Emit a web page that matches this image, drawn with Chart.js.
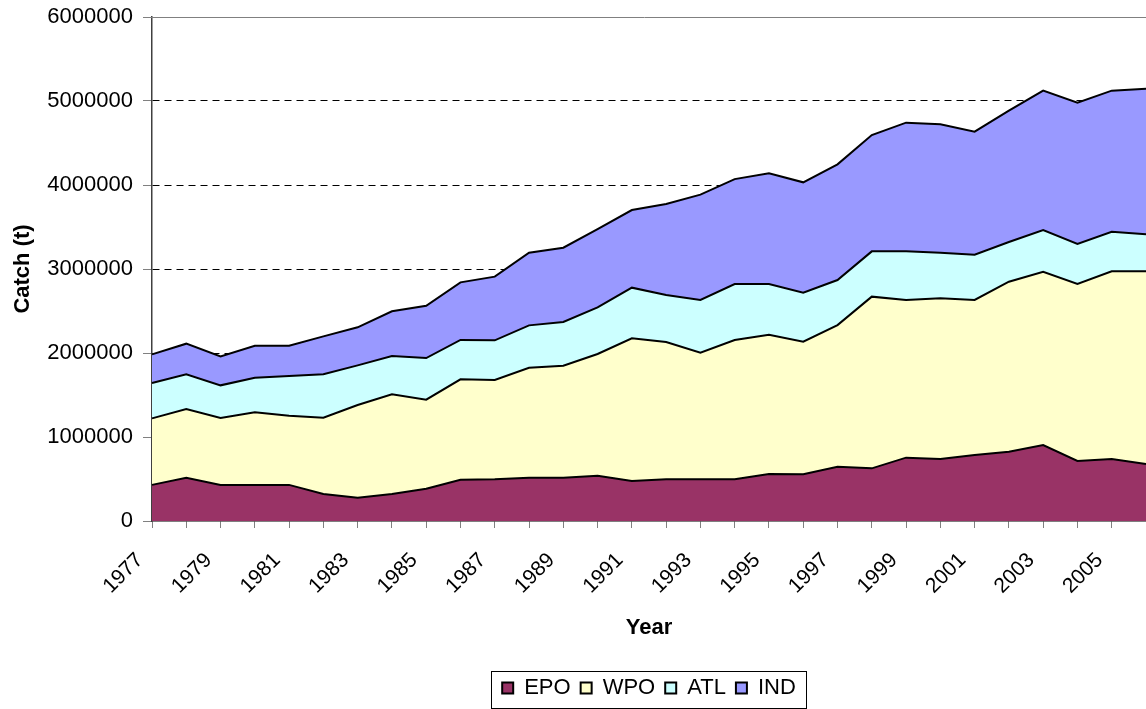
<!DOCTYPE html>
<html><head><meta charset="utf-8">
<script src="https://cdn.jsdelivr.net/npm/chart.js@4"></script>
<style>html,body{margin:0;padding:0;background:#fff;overflow:hidden;}</style>
</head><body>
<canvas id="c" width="1146" height="709" style="display:block;width:1146px;height:709px"></canvas>
<script>
const years = ['1977','1978','1979','1980','1981','1982','1983','1984','1985','1986','1987','1988','1989','1990','1991','1992','1993','1994','1995','1996','1997','1998','1999','2000','2001','2002','2003','2004','2005','2006'];
const EPO = [430000,515000,430000,430000,430000,321000,277000,321000,385000,492000,496000,516000,516000,540000,476000,496000,496000,496000,560000,556000,647000,627000,754000,738000,786000,825000,905000,714000,738000,679000];
const WPO = [792000,818000,796000,864000,824000,909000,1104000,1187000,1059000,1195000,1183000,1309000,1333000,1448000,1699000,1635000,1508000,1659000,1658000,1579000,1686000,2044000,1877000,1913000,1845000,2024000,2063000,2107000,2234000,2293000];
const ATL = [421000,413000,389000,412000,472000,516000,472000,456000,496000,468000,472000,504000,520000,556000,603000,559000,627000,666000,603000,583000,536000,539000,579000,543000,540000,472000,496000,477000,472000,441000];
const IND = [341000,365000,345000,381000,361000,452000,453000,532000,623000,686000,758000,865000,885000,932000,924000,1084000,1254000,1249000,1319000,1314000,1377000,1385000,1532000,1528000,1464000,1564000,1659000,1682000,1679000,1734000];
const seriesNames = ['EPO','WPO','ATL','IND'];
const seriesColors = ['#993366','#FFFFCC','#CCFFFF','#9999FF'];
const yMax = 6000000;
const yStep = 1000000;

const FONT = 'Liberation Sans, Arial, sans-serif';
Chart.defaults.font.family = FONT;
Chart.defaults.color = '#000';

const decor = {
  id: 'decor',
  afterDraw(chart) {
    const ctx = chart.ctx, a = chart.chartArea;
    ctx.save();
    ctx.strokeStyle = '#808080';
    ctx.lineWidth = 1;
    ctx.beginPath();
    ctx.moveTo(a.left - 9, Math.round(a.top) + 0.5);
    ctx.lineTo(a.right, Math.round(a.top) + 0.5);
    ctx.stroke();
    const hb = chart.legend.legendHitBoxes;
    if (hb && hb.length) {
      const l = hb[0].left - 11;
      const last = hb[hb.length - 1];
      const r = last.left + last.width + 10;
      const t = hb[0].top - 6;
      const b = Math.min(chart.height - 0.5, hb[0].top + hb[0].height + 9);
      ctx.strokeStyle = '#000';
      ctx.strokeRect(Math.round(l) + 0.5, Math.round(t) + 0.5, Math.round(r - l), Math.round(b - t));
    }
    ctx.restore();
  }
};

const datasets = [EPO, WPO, ATL, IND].map((d, i) => ({
  label: seriesNames[i],
  data: d,
  backgroundColor: seriesColors[i],
  borderColor: '#000',
  borderWidth: 2,
  fill: i === 0 ? 'origin' : '-1',
  pointRadius: 0,
  tension: 0
}));

new Chart(document.getElementById('c'), {
  type: 'line',
  data: { labels: years, datasets },
  plugins: [decor],
  options: {
    responsive: false,
    animation: false,
    devicePixelRatio: 1,
    layout: { padding: { top: 17, right: 0, left: 0, bottom: 0 } },
    plugins: {
      tooltip: { enabled: false },
      legend: {
        position: 'bottom',
        fullSize: false,
        labels: {
          font: { size: 22, family: FONT },
          boxWidth: 11, boxHeight: 11,
          padding: 10,
          color: '#000'
        }
      }
    },
    scales: {
      x: {
        type: 'category',
        offset: false,
        afterFit(scale) { scale.height = 146; scale.paddingRight = 0; scale.paddingLeft = 0; },
        grid: { drawOnChartArea: false, offset: false, tickLength: 7, tickColor: '#808080', drawTicks: true },
        border: { color: '#000', width: 1.5 },
        ticks: {
          autoSkip: false, maxRotation: 45, minRotation: 45, padding: 20, labelOffset: -12,
          font: { size: 21, family: FONT }, color: '#000',
          callback(v, i) { return i % 2 === 0 ? years[i] : ''; }
        },
        title: { display: true, text: 'Year', font: { size: 22, weight: 'bold', family: FONT }, color: '#000', padding: { top: 0, bottom: 26 } }
      },
      y: {
        stacked: true,
        min: 0, max: yMax,
        afterFit(scale) { scale.width = 152; scale.paddingTop = 0; scale.paddingBottom = 0; },
        grid: {
          color: (c) => (c.tick && c.tick.value > 0 && c.tick.value < yMax) ? '#000' : 'rgba(0,0,0,0)',
          tickColor: '#808080', tickLength: 9, lineWidth: 1
        },
        border: { color: '#404040', width: 1.5, dash: [7, 5] },
        ticks: {
          stepSize: yStep, padding: 10,
          font: { size: 22, family: FONT }, color: '#000',
          callback(v) { return String(v); }
        },
        title: { display: true, text: 'Catch (t)', font: { size: 22, weight: 'bold', family: FONT }, color: '#000', padding: { top: 10, bottom: 0 } }
      }
    }
  }
});
</script>
</body></html>
